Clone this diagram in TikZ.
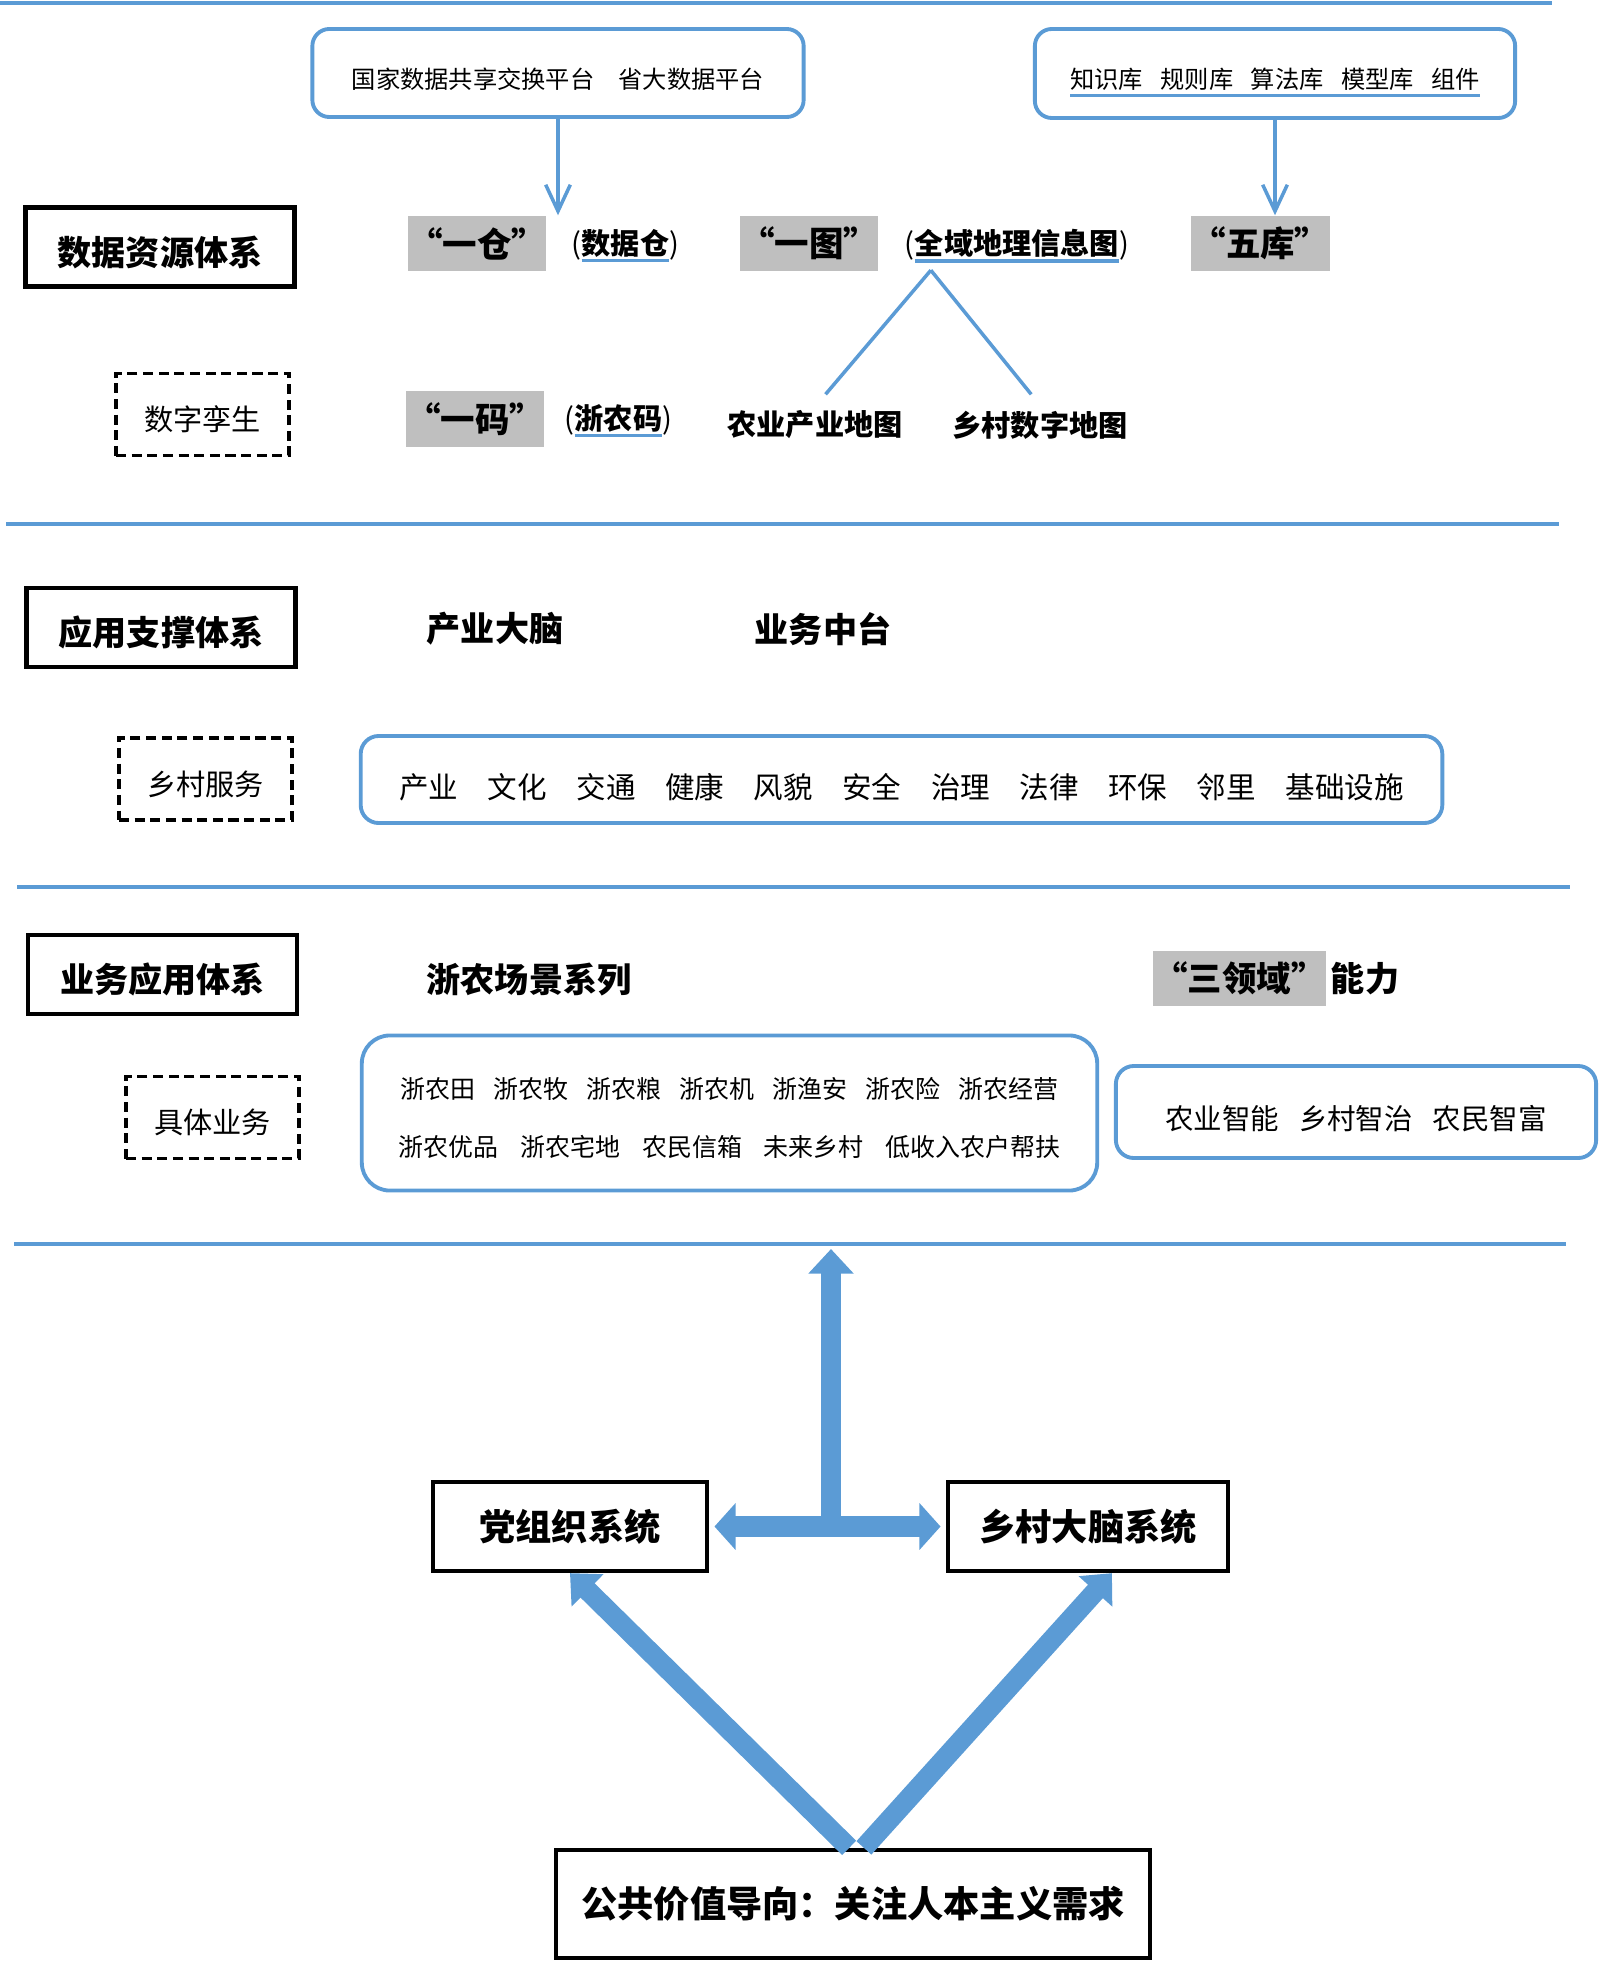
\documentclass[tikz,border=0pt]{standalone}
\usepackage{fontspec}
\setmainfont{Noto Sans CJK SC}
\usetikzlibrary{arrows.meta}

\definecolor{lineblue}{HTML}{5B9BD5}
\definecolor{tagray}{HTML}{BFBFBF}

\newsavebox{\ulbox}
\newcommand{\blueul}[1]{\sbox{\ulbox}{#1}\rlap{\textcolor{lineblue}{\rule[-2.2pt]{\wd\ulbox}{0.9pt}}}\usebox{\ulbox}}

\begin{document}
\begin{tikzpicture}[x=0.01cm, y=-0.01cm]
    \useasboundingbox (0,0) rectangle (1600,1970);
    \begin{scope}[sepline/.style={draw=lineblue, line width=1.2pt},
        srcbox/.style={draw=lineblue, line width=1.1pt, rounded corners=0.17cm, text height=9.5pt, text depth=0.7pt, font=\fontsize{6.9pt}{8pt}\selectfont},
        itembox/.style={draw=lineblue, line width=1.1pt, rounded corners=0.18cm},
        tag/.style={fill=tagray, inner sep=0pt, minimum height=0.55cm, font=\bfseries\fontsize{9.8pt}{11pt}\selectfont},
        note/.style={inner sep=2pt, font=\bfseries\fontsize{8.3pt}{10pt}\selectfont},
        head/.style={font=\bfseries\fontsize{9.7pt}{11pt}\selectfont},
        catbox/.style={draw, line width=1.2pt, minimum width=2.69cm, minimum height=0.79cm, text height=11.25pt, text depth=1pt, font=\bfseries\fontsize{9.7pt}{11pt}\selectfont},
        subbox/.style={draw, line width=1.1pt, dash pattern=on 2.85pt off 1.6pt, minimum width=1.73cm, minimum height=0.82cm, text height=10pt, text depth=0.8pt, font=\fontsize{8.3pt}{10pt}\selectfont},
        sysbox/.style={draw, line width=1.2pt, font=\bfseries\fontsize{10.3pt}{12pt}\selectfont},
        thinarrow/.style={draw=lineblue, line width=1pt, -{Straight Barb[length=7.5pt,width=7pt]}},
        branch/.style={draw=lineblue, line width=1pt},
        bigarrow/.style={draw=lineblue, line width=5.7pt, -{Triangle[width=12.5pt,length=7pt]}}]
        \draw[sepline] (0,3) -- (1552,3);
        \draw[sepline] (6,524) -- (1559,524);
        \draw[sepline] (17,887) -- (1570,887);
        \draw[sepline] (14,1244) -- (1566,1244);

        \node[srcbox, minimum width=4.91cm, minimum height=0.88cm] (src1) at (558,73) {国家数据共享交换平台\quad 省大数据平台};
        \node[srcbox, minimum width=4.80cm, minimum height=0.89cm] (src2) at (1275,73.5) {\blueul{知识库\hspace{0.72em}规则库\hspace{0.72em}算法库\hspace{0.72em}模型库\hspace{0.72em}组件}};
        \node[catbox] (sjzy) at (160,247) {数据资源体系};
        \node[tag, minimum width=1.38cm] (cang) at (477,243.5) {“一仓”};
        \node[note] (shujucang) at (625.5,246) {\textmd{(}\blueul{数据仓}\textmd{)}};
        \node[tag, minimum width=1.38cm] (tu) at (809,243.5) {“一图”};
        \node[note] (quanyu) at (1017,246) {\textmd{(}\blueul{全域地理信息图}\textmd{)}};
        \node[tag, minimum width=1.39cm] (wuku) at (1260.5,243.5) {“五库”};
        \draw[thinarrow] (src1.south) -- (src1.south |- cang.north);
        \draw[thinarrow] (src2.south) -- (src2.south |- wuku.north);

        \node[subbox] (szls) at (202.5,414.5) {数字孪生};
        \node[tag, minimum width=1.34cm] (ma) at (475,419) {“一码”};
        \node[note] (zhenongma) at (618.5,421) {\textmd{(}\blueul{浙农码}\textmd{)}};
        \node[note] (nycy) at (815,425) {农业产业地图};
        \node[note] (xcsz) at (1040,425) {乡村数字地图};
        \coordinate (apex) at ([xshift=-24.5pt]quanyu.south);
        \draw[branch] (apex) -- ([xshift=3pt,yshift=2.5pt]nycy.north);
        \draw[branch] (apex) -- ([xshift=-2.5pt,yshift=2.5pt]xcsz.north);

        \node[catbox] (yyzc) at (161,627.5) {应用支撑体系};
        \node[head] (cydn) at (495,629) {产业大脑};
        \node[head] (ywzt) at (823,629) {业务中台};
        \node[subbox] (xcfw) at (205.5,779) {乡村服务};
        \node[itembox, minimum width=10.81cm, minimum height=0.87cm, text height=11.4pt, text depth=0.8pt, font=\fontsize{8.4pt}{10pt}\selectfont] (fuwu) at (901.5,779.5) {产业\quad 文化\quad 交通\quad 健康\quad 风貌\quad 安全\quad 治理\quad 法律\quad 环保\quad 邻里\quad 基础设施};

        \node[catbox] (ywyy) at (162.5,974.5) {业务应用体系};
        \node[head] (cjxl) at (529,980) {浙农场景系列};
        \node[tag, minimum width=1.73cm] (sanly) at (1239.5,978.5) {“三领域”};
        \node[head, anchor=west, inner sep=1pt] (nengli) at (sanly.east) {能力};
        \node[subbox] (jtyw) at (212.5,1117.5) {具体业务};
        \node[itembox, rounded corners=0.28cm, minimum width=7.35cm, minimum height=1.55cm, align=center, font=\fontsize{7.1pt}{16.5pt}\selectfont] (changjing) at (729.5,1113) {\rule{0pt}{1.28em}浙农田\hspace{0.72em}浙农牧\hspace{0.72em}浙农粮\hspace{0.72em}浙农机\hspace{0.72em}浙渔安\hspace{0.72em}浙农险\hspace{0.72em}浙农经营\\ 浙农优品\hspace{0.88em}浙农宅地\hspace{0.88em}农民信箱\hspace{0.88em}未来乡村\hspace{0.88em}低收入农户帮扶};
        \node[itembox, minimum width=4.8cm, minimum height=0.92cm, text height=10.5pt, text depth=0.8pt, font=\fontsize{8.1pt}{10pt}\selectfont] (nengbox) at (1356,1112) {农业智能\hspace{0.7em}乡村智治\hspace{0.7em}农民智富};

        \node[sysbox, minimum width=2.74cm, minimum height=0.89cm] (dzz) at (570,1526.5) {党组织系统};
        \node[sysbox, minimum width=2.80cm, minimum height=0.89cm] (xcdn) at (1088,1526.5) {乡村大脑系统};
        \node[sysbox, minimum width=5.94cm, minimum height=1.08cm] (ggjz) at (853,1904) {公共价值导向：关注人本主义需求};
        \coordinate (hub) at (831,1528);
        \coordinate (uptip) at (831,1249);
        \draw[bigarrow, {Triangle[width=13pt,length=6pt]}-{Triangle[width=13pt,length=6pt]}, line width=6.2pt, shorten <=1.5pt, shorten >=1.5pt] (dzz.east) -- (xcdn.west);
        \draw[bigarrow] (hub) -- (uptip);
        \draw[bigarrow] ([xshift=-1.1pt]ggjz.north) -- (dzz.south);
        \draw[bigarrow] ([xshift=3.1pt]ggjz.north) -- ([xshift=6.8pt]xcdn.south);
    \end{scope}
\end{tikzpicture}
\end{document}
